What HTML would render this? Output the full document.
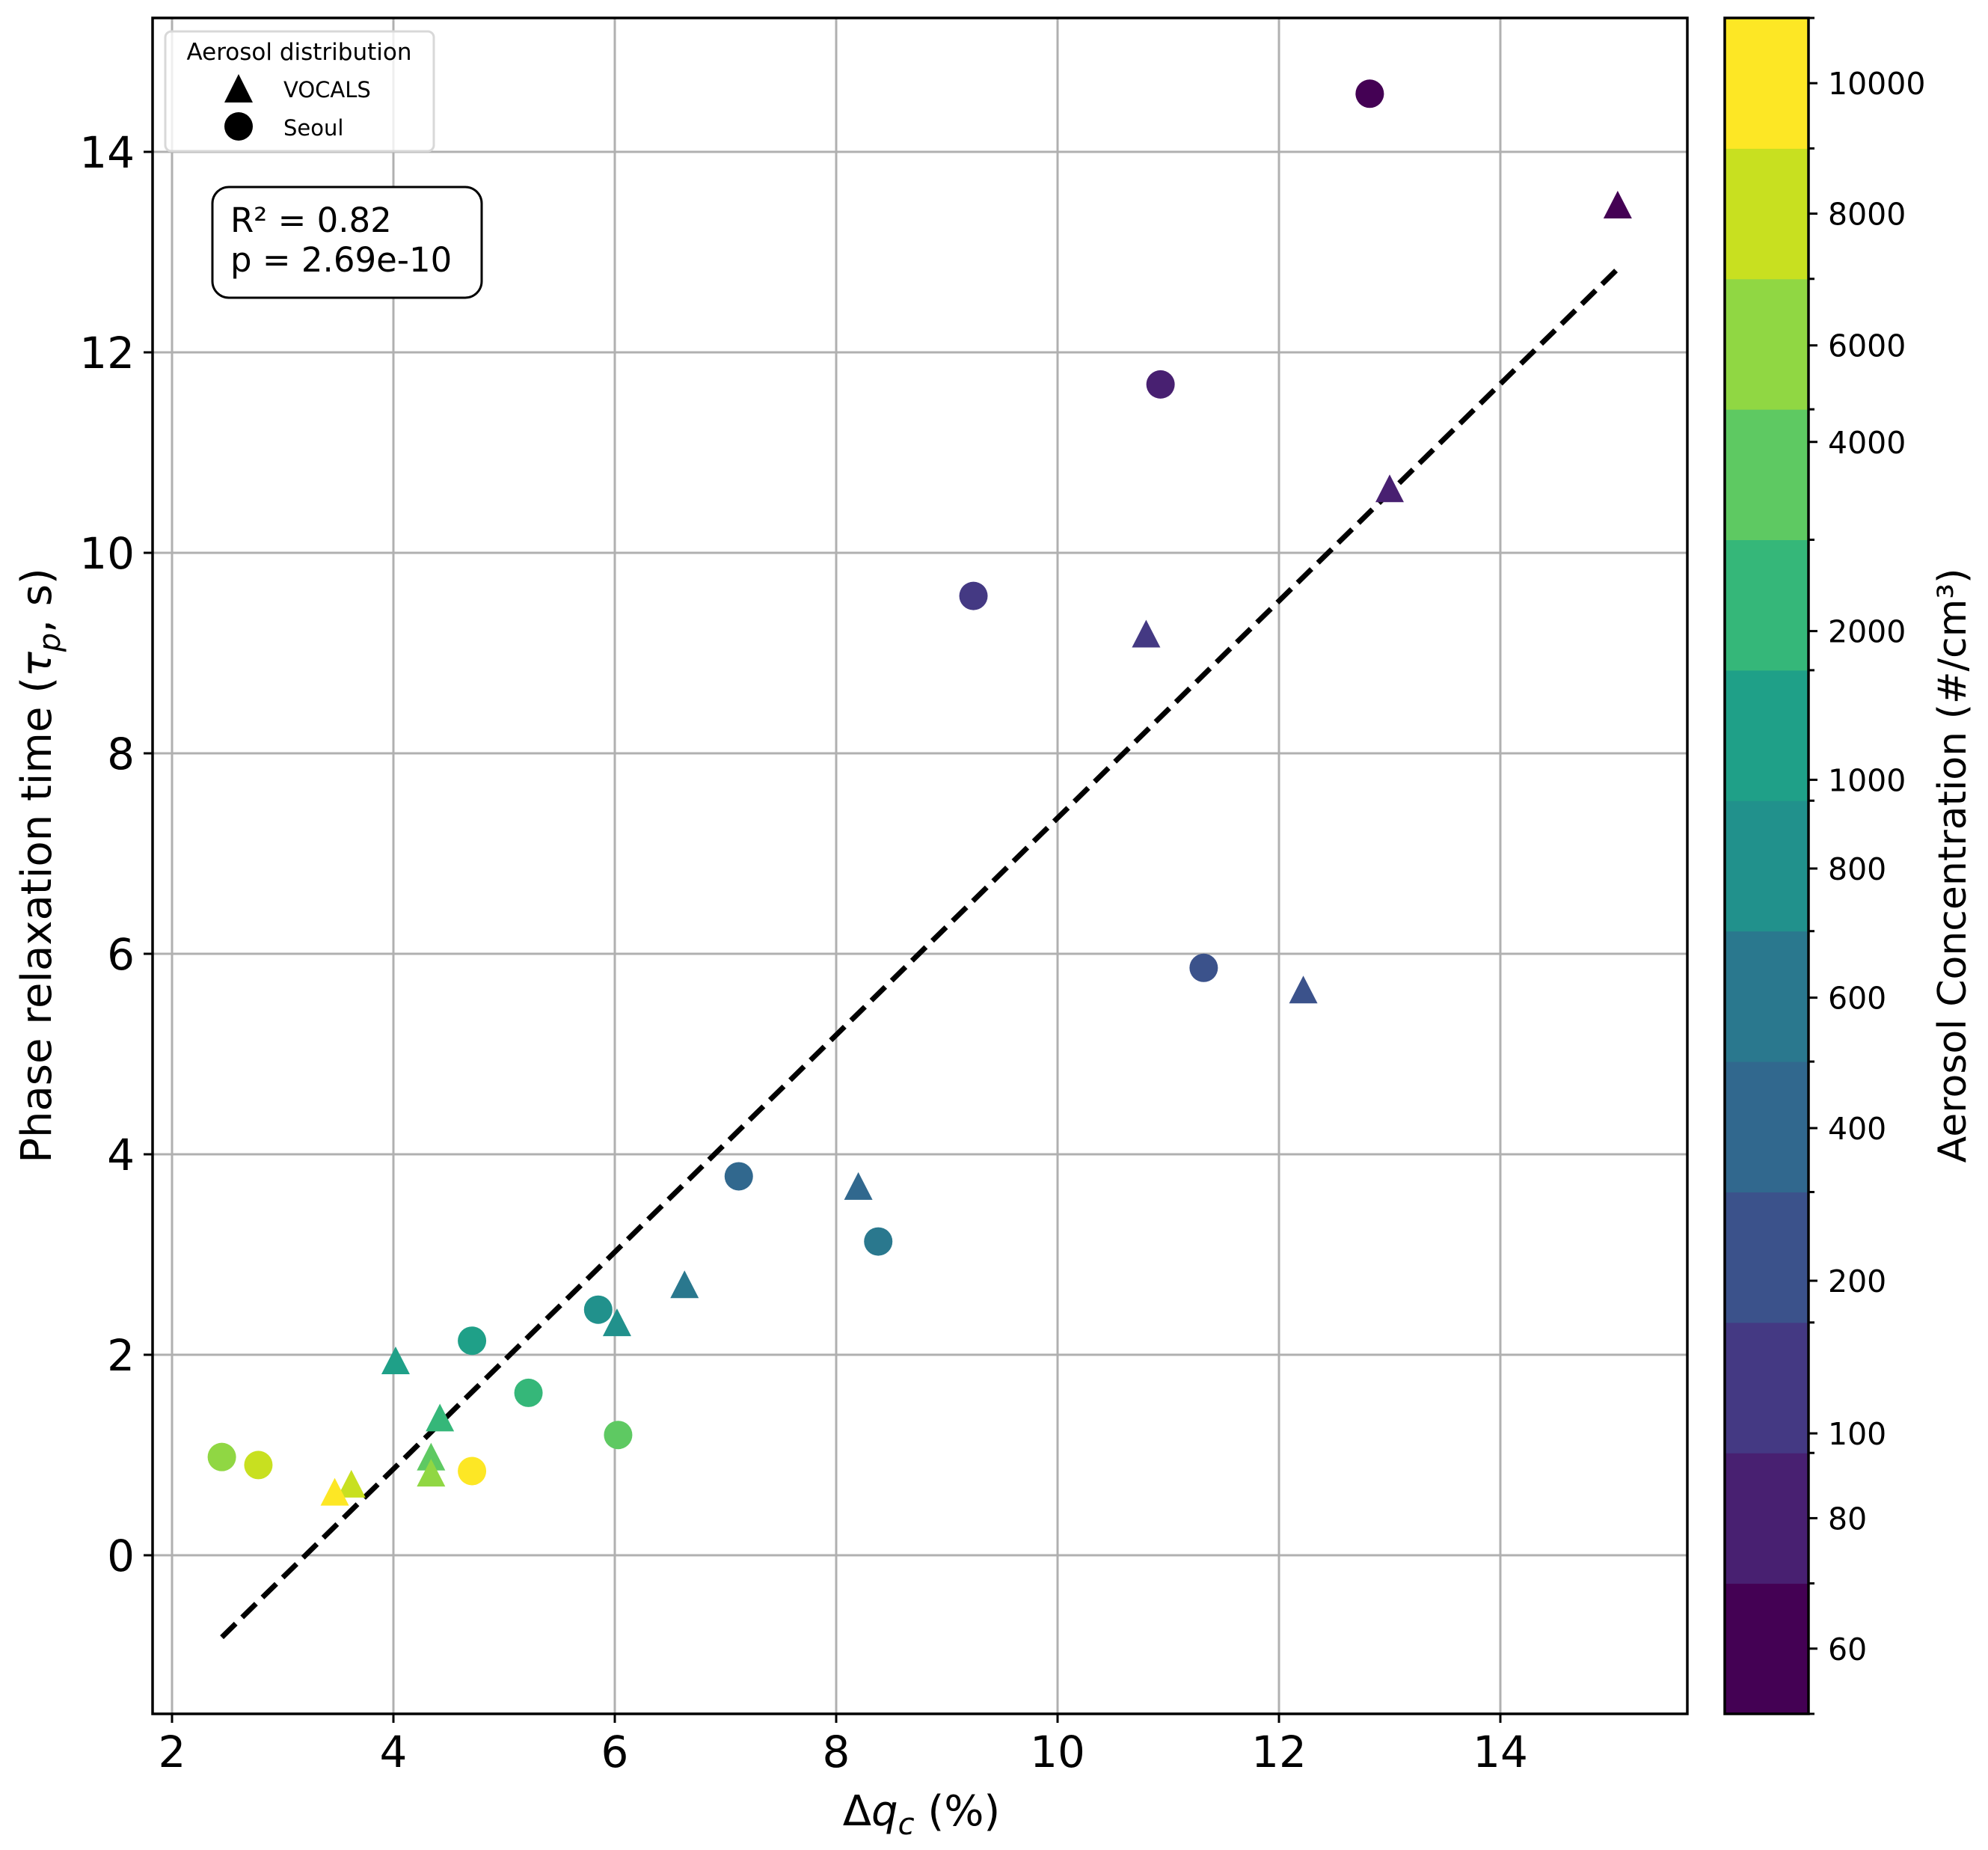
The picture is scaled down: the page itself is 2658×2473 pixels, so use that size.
<!DOCTYPE html>
<html><head><meta charset="utf-8"><style>
html,body{margin:0;padding:0;background:#fff}
svg{display:block}
text{font-family:"DejaVu Sans","Liberation Sans",sans-serif;fill:#000}
</style></head><body>
<svg id="chart" width="2658" height="2473" viewBox="0 0 2658 2473" xmlns="http://www.w3.org/2000/svg"></svg>
<script>
// ---- data ----
const circleX = [12.82,10.93,9.24,11.32,7.12,8.38,5.85,4.71,5.22,6.03,2.45,2.78,4.71];
const circleY = [14.58,11.68,9.57,5.86,3.78,3.13,2.45,2.14,1.62,1.20,0.98,0.90,0.84];
const circleBand = [0,1,2,3,4,5,6,7,8,9,10,11,12];
const triX = [15.06,13.0,10.80,12.22,8.20,6.63,6.02,4.02,4.42,4.34,4.34,3.62,3.47];
const triY = [13.47,10.64,9.19,5.64,3.68,2.70,2.32,1.94,1.37,0.98,0.82,0.71,0.63];
const triBand = [0,1,2,3,4,5,6,7,8,9,10,11,12];
const fitX = [2.45,15.06];
const fitSlope = 1.0825;
const fitIntercept = -3.47;
const xTicks = [2,4,6,8,10,12,14];
const yTicks = [0,2,4,6,8,10,12,14];
const bandColors = ["#440154","#482071","#443983","#3b528b","#31688e","#2a788e","#21918c","#1fa088","#35b779","#5ec962","#90d743","#c8e020","#fde725"];
const cbarLabels = ["60","80","100","200","400","600","800","1000","2000","4000","6000","8000","10000"];
const cbarLabelBandPos = [0.5,1.5,2.15,3.32,4.49,5.49,6.48,7.16,8.3,9.75,10.49,11.5,12.5];

// ---- layout ----
const L=204,R=2256,T=24,B=2291;
const X0=230, XU=148, Y0=2079, YU=134;
const sx=v=>X0+(v-2)*XU;
const sy=v=>Y0-v*YU;
const svg=document.getElementById('chart');
const NS='http://www.w3.org/2000/svg';
function mk(tag,attrs,parent){const e=document.createElementNS(NS,tag);for(const k in attrs)e.setAttribute(k,attrs[k]);(parent||svg).appendChild(e);return e;}

// grid
xTicks.forEach(v=>{const l=mk('line',{x1:sx(v),x2:sx(v),y1:T,y2:B,stroke:'#b0b0b0','stroke-width':3});

});
yTicks.forEach(v=>{const l=mk('line',{x1:L,x2:R,y1:sy(v),y2:sy(v),stroke:'#b0b0b0','stroke-width':3});

});

// fit line
const fl=mk('line',{x1:sx(fitX[0]),y1:sy(fitSlope*fitX[0]+fitIntercept),x2:sx(fitX[1]),y2:sy(fitSlope*fitX[1]+fitIntercept),stroke:'#000','stroke-width':7,'stroke-dasharray':'26,12'});



// points
circleX.forEach((x,i)=>{const c=mk('circle',{cx:sx(x),cy:sy(circleY[i]),r:19,fill:bandColors[circleBand[i]]});

});
triX.forEach((x,i)=>{const cx=sx(x),cy=sy(triY[i]);const p=mk('polygon',{points:`${cx},${cy-19} ${cx+19},${cy+18} ${cx-19},${cy+18}`,fill:bandColors[triBand[i]]});

});

// axes frame
const fr=mk('rect',{x:L,y:T,width:R-L,height:B-T,fill:'none',stroke:'#000','stroke-width':3.5});



// ticks
xTicks.forEach(v=>{mk('line',{x1:sx(v),x2:sx(v),y1:B,y2:B+12,stroke:'#000','stroke-width':3});
const t=mk('text',{x:sx(v),y:2362,'font-size':58,'text-anchor':'middle'});t.textContent=v;

});
yTicks.forEach(v=>{mk('line',{x1:L-12,x2:L,y1:sy(v),y2:sy(v),stroke:'#000','stroke-width':3});
const t=mk('text',{x:180,y:sy(v)+21,'font-size':58,'text-anchor':'end'});t.textContent=v;

});

// axis labels
const xl=mk('text',{x:1232,y:2440,'font-size':56,'text-anchor':'middle'});
xl.innerHTML='Δ<tspan font-style="italic">q</tspan><tspan font-style="italic" font-size="40" dy="12">c</tspan><tspan dy="-12"> (%)</tspan>';


const yl=mk('text',{x:0,y:0,'font-size':56,'text-anchor':'middle',transform:'translate(68,1157) rotate(-90)'});
yl.innerHTML='Phase relaxation time (<tspan font-style="italic">τ</tspan><tspan font-style="italic" font-size="40" dy="12">p</tspan><tspan dy="-12">, s)</tspan>';



// colorbar
const CL=2306,CR=2418,CT=24,CB=2291,bh=(CB-CT)/bandColors.length;
bandColors.forEach((c,i)=>{const r=mk('rect',{x:CL,y:CB-(i+1)*bh,width:CR-CL,height:bh+0.5,fill:c});


mk('line',{x1:CR,x2:CR+8,y1:CB-i*bh,y2:CB-i*bh,stroke:'#000','stroke-width':3});});
mk('line',{x1:CR,x2:CR+8,y1:CT,y2:CT,stroke:'#000','stroke-width':3});
const cf=mk('rect',{x:CL,y:CT,width:CR-CL,height:CB-CT,fill:'none',stroke:'#000','stroke-width':3.5});


cbarLabels.forEach((s,i)=>{const y=CB-cbarLabelBandPos[i]*bh;
mk('line',{x1:CR,x2:CR+12,y1:y,y2:y,stroke:'#000','stroke-width':3});
const t=mk('text',{x:2444,y:y+15,'font-size':41});t.textContent=s;

});
const cl=mk('text',{x:0,y:0,'font-size':52,'text-anchor':'middle',transform:'translate(2628,1157) rotate(-90)'});
cl.textContent='Aerosol Concentration (#/cm³)';



// legend
const lg=mk('g',{});


mk('rect',{x:221,y:42,width:359,height:160,rx:8,fill:'#fff','fill-opacity':0.8,stroke:'#d8d8d8','stroke-width':3},lg);
const lt=mk('text',{x:400,y:80,'font-size':31,'text-anchor':'middle'},lg);lt.textContent='Aerosol distribution';
mk('polygon',{points:'319,99 338,137 300,137',fill:'#000'},lg);
const l1=mk('text',{x:379,y:130,'font-size':29},lg);l1.textContent='VOCALS';


mk('ellipse',{cx:319,cy:169,rx:19,ry:19,fill:'#000'},lg);
const l2=mk('text',{x:379,y:181,'font-size':29},lg);l2.textContent='Seoul';



// stats box
const sb=mk('g',{});


mk('rect',{x:284,y:250,width:360,height:148,rx:22,fill:'#fff',stroke:'#000','stroke-width':3},sb);
const s1=mk('text',{x:308,y:310,'font-size':45},sb);s1.textContent='R² = 0.82';
const s2=mk('text',{x:308,y:363,'font-size':45},sb);s2.textContent='p = 2.69e-10';
</script>
</body></html>
